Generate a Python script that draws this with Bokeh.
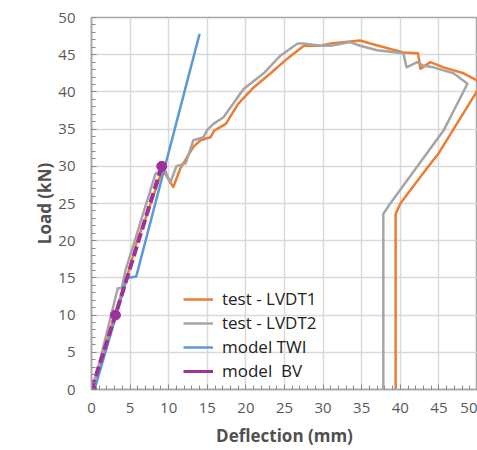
from bokeh.plotting import figure
from bokeh.models import Legend, LegendItem, SingleIntervalTicker, Range1d, Title
from bokeh.embed import file_html
from bokeh.resources import INLINE

# ---- data ----
lvdt1_x = [0, 1.0, 3.0, 5.0, 5.9, 7.0, 9.2, 10.6, 11.5, 12.6, 13.2, 14.1, 15.4, 15.9, 17.4, 19.0, 21.0, 23.2, 25.4, 27.5,
           29.7, 31.0, 34.8, 36.1, 40.4, 42.3, 42.6, 43.9, 45.6, 48.2, 50.0, 50.7,
           50.0, 45.0, 43.5, 40.0, 39.4, 39.4]
lvdt1_y = [0, 3.0, 10.0, 16.5, 20.0, 23.0, 29.6, 27.2, 29.7, 31.6, 32.6, 33.5, 33.9, 34.8, 35.7, 38.4, 40.6, 42.5, 44.5, 46.2,
           46.2, 46.5, 46.9, 46.5, 45.3, 45.2, 43.1, 44.0, 43.3, 42.5, 41.5, 41.3,
           40.2, 31.8, 29.8, 25.0, 23.6, 0]

lvdt2_x = [0, 1.0, 3.4, 3.9, 4.4, 5.6, 8.3, 9.4, 10.2, 11.0, 12.2, 13.2, 14.5, 15.0, 15.8, 17.1, 19.7, 22.3,
           24.5, 26.7, 27.5, 29.7, 31.0, 33.5, 34.8, 37.0, 40.4, 40.8, 42.2, 43.0, 44.3, 46.9, 48.7,
           45.6, 38.7, 37.8, 37.8]
lvdt2_y = [0, 3.5, 13.6, 13.6, 16.0, 20.0, 29.0, 29.8, 27.8, 30.0, 30.4, 33.5, 33.9, 34.9, 35.7, 36.6, 40.4, 42.5,
           44.9, 46.5, 46.5, 46.2, 46.2, 46.7, 46.2, 45.6, 45.2, 43.3, 44.0, 43.5, 43.3, 42.5, 41.1,
           34.8, 25.0, 23.6, 0]

twi_x = [0.4, 4.6, 5.8, 14.0]
twi_y = [0, 15.0, 15.2, 47.8]

bv_x = [0, 3.1, 9.1]
bv_y = [0, 10.0, 30.0]

series_labels = ["test - LVDT1", "test - LVDT2", "model TWI", "model  BV"]
x_title = "Deflection (mm)"
y_title = "Load (kN)"
x_ticks_step = 5
y_ticks_step = 5

ORANGE = "#ed7d31"
GRAY = "#a5a5a5"
BLUE = "#5b9bd5"
PURPLE = "#a0309c"
TXT = "#595959"

p = figure(width=477, height=450, output_backend="svg", toolbar_location=None,
           x_range=Range1d(0, 50), y_range=Range1d(0, 50),
           min_border_left=91, min_border_right=0, min_border_top=17, min_border_bottom=61)

p.outline_line_color = "#a6a6a6"
p.outline_line_width = 1.5

r1 = p.line(lvdt1_x, lvdt1_y, line_color=ORANGE, line_width=2.5, line_join="round")
r2 = p.line(lvdt2_x, lvdt2_y, line_color=GRAY, line_width=2.5, line_join="round")
r3 = p.line(twi_x, twi_y, line_color=BLUE, line_width=2.5)
p.line(bv_x, bv_y, line_color=PURPLE, line_width=4, line_dash="10 4")
p.scatter(bv_x, bv_y, size=10, fill_color=PURPLE, line_color=PURPLE)
# legend swatch for model BV (solid in the reference legend); one point draws nothing
r4 = p.line(bv_x[:1], bv_y[:1], line_color=PURPLE, line_width=3)

for ax, step in ((p.xaxis[0], x_ticks_step), (p.yaxis[0], y_ticks_step)):
    ax.ticker = SingleIntervalTicker(interval=step, num_minor_ticks=5)
    ax.axis_line_color = "#a6a6a6"
    ax.axis_line_width = 1.5
    ax.major_tick_in = 5
    ax.major_tick_out = 0
    ax.minor_tick_in = 4
    ax.minor_tick_out = 0
    ax.major_tick_line_color = "#8c8c8c"
    ax.minor_tick_line_color = "#8c8c8c"
    ax.major_label_text_font = "Open Sans"
    ax.major_label_text_font_size = "15px"
    ax.major_label_text_color = TXT

p.xaxis.axis_label = x_title
p.xaxis.axis_label_text_font = "Open Sans"
p.xaxis.axis_label_text_font_size = "17px"
p.xaxis.axis_label_text_font_style = "bold"
p.xaxis.axis_label_text_color = "#505050"
p.xaxis.major_label_standoff = 13
p.yaxis.major_label_standoff = 16
p.xaxis.axis_label_standoff = 8

ytitle = Title(text=y_title, align="center", offset=-23, standoff=0,
               text_font="Open Sans", text_font_size="17px", text_font_style="bold",
               text_color="#505050")
p.add_layout(ytitle, "left")

p.xgrid.ticker = p.xaxis[0].ticker
p.ygrid.ticker = p.yaxis[0].ticker
p.grid.grid_line_color = "#d9d9d9"
p.grid.grid_line_width = 1.5

legend = Legend(items=[
    LegendItem(label=series_labels[0], renderers=[r1]),
    LegendItem(label=series_labels[1], renderers=[r2]),
    LegendItem(label=series_labels[2], renderers=[r3]),
    LegendItem(label=series_labels[3], renderers=[r4]),
], location=(92, 7))
legend.background_fill_alpha = 0
legend.border_line_alpha = 0
legend.padding = 0
legend.margin = 0
legend.glyph_width = 30
legend.glyph_height = 20
legend.spacing = 1
legend.label_standoff = 9
legend.label_text_font = "Open Sans"
legend.label_text_font_size = "17px"
legend.label_text_color = "#222222"
p.add_layout(legend)

open("out.html", "w").write(file_html(p, INLINE))
